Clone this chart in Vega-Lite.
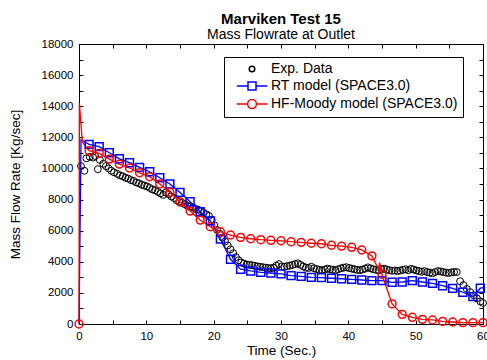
{
  "$schema": "https://vega.github.io/schema/vega-lite/v6.json",
  "width": 404,
  "height": 280,
  "autosize": "none",
  "padding": {"left": 79, "top": 44, "right": 4, "bottom": 36},
  "config": {
    "font": "Liberation Sans",
    "view": {"stroke": "black", "strokeWidth": 1},
    "axis": {"grid": false, "domain": false, "tickColor": "black", "labelColor": "black", "titleColor": "black", "tickSize": -4, "tickWidth": 1}
  },
  "title": {
    "text": "Marviken Test 15",
    "subtitle": "Mass Flowrate at Outlet",
    "fontSize": 15,
    "fontWeight": "bold",
    "color": "black",
    "subtitleFontSize": 14,
    "subtitleColor": "black",
    "subtitleFont": "Liberation Sans",
    "subtitlePadding": 1,
    "offset": -4,
    "anchor": "middle"
  },
  "datasets": {
    "exp": [
      {"t": 0.3, "y": 10150}, {"t": 0.8, "y": 9850}, {"t": 1.1, "y": 10650}, {"t": 1.6, "y": 10750},
      {"t": 2.1, "y": 10700}, {"t": 2.4, "y": 10800}, {"t": 2.8, "y": 9950}, {"t": 3.1, "y": 10550},
      {"t": 3.6, "y": 10300}, {"t": 4.0, "y": 10150}, {"t": 4.4, "y": 10000}, {"t": 4.8, "y": 9850},
      {"t": 5.2, "y": 9750}, {"t": 5.7, "y": 9650}, {"t": 6.1, "y": 9550}, {"t": 6.5, "y": 9500},
      {"t": 6.9, "y": 9400}, {"t": 7.3, "y": 9350}, {"t": 7.7, "y": 9250}, {"t": 8.1, "y": 9200},
      {"t": 8.5, "y": 9100}, {"t": 8.9, "y": 9050}, {"t": 9.3, "y": 8950}, {"t": 9.7, "y": 8900},
      {"t": 10.1, "y": 8850}, {"t": 10.5, "y": 8750}, {"t": 10.9, "y": 8650}, {"t": 11.3, "y": 8600},
      {"t": 11.7, "y": 8500}, {"t": 12.1, "y": 8400}, {"t": 12.5, "y": 8300}, {"t": 12.9, "y": 8450},
      {"t": 13.3, "y": 8350}, {"t": 13.7, "y": 8200}, {"t": 14.1, "y": 8100}, {"t": 14.5, "y": 7950},
      {"t": 14.9, "y": 7850}, {"t": 15.3, "y": 7800}, {"t": 15.7, "y": 7700}, {"t": 16.1, "y": 7600},
      {"t": 16.5, "y": 7550}, {"t": 16.9, "y": 7500}, {"t": 17.3, "y": 7400}, {"t": 17.7, "y": 7350},
      {"t": 18.1, "y": 7250}, {"t": 18.5, "y": 7150}, {"t": 18.9, "y": 7050}, {"t": 19.3, "y": 6950},
      {"t": 19.7, "y": 6700}, {"t": 20.1, "y": 6350}, {"t": 20.5, "y": 6050}, {"t": 20.9, "y": 5800},
      {"t": 21.3, "y": 5550}, {"t": 21.7, "y": 5300}, {"t": 22.1, "y": 5050}, {"t": 22.5, "y": 4800},
      {"t": 22.9, "y": 4550}, {"t": 23.3, "y": 4300}, {"t": 23.7, "y": 4100}, {"t": 24.1, "y": 3950},
      {"t": 24.5, "y": 3880}, {"t": 24.9, "y": 3820}, {"t": 25.3, "y": 3800}, {"t": 25.7, "y": 3780},
      {"t": 26.1, "y": 3740}, {"t": 26.5, "y": 3700}, {"t": 26.9, "y": 3680}, {"t": 27.3, "y": 3650},
      {"t": 27.7, "y": 3620}, {"t": 28.1, "y": 3600}, {"t": 28.5, "y": 3580}, {"t": 28.9, "y": 3620},
      {"t": 29.3, "y": 3750}, {"t": 29.7, "y": 3850}, {"t": 30.1, "y": 3700}, {"t": 30.5, "y": 3680},
      {"t": 30.9, "y": 3720}, {"t": 31.3, "y": 3750}, {"t": 31.7, "y": 3800}, {"t": 32.1, "y": 3850},
      {"t": 32.5, "y": 3900}, {"t": 32.9, "y": 3800}, {"t": 33.3, "y": 3700}, {"t": 33.7, "y": 3620},
      {"t": 34.1, "y": 3600}, {"t": 34.5, "y": 3680}, {"t": 34.9, "y": 3580}, {"t": 35.3, "y": 3530},
      {"t": 35.7, "y": 3480}, {"t": 36.1, "y": 3460}, {"t": 36.5, "y": 3500}, {"t": 36.9, "y": 3560},
      {"t": 37.3, "y": 3520}, {"t": 37.7, "y": 3480}, {"t": 38.1, "y": 3450}, {"t": 38.5, "y": 3520},
      {"t": 38.9, "y": 3580}, {"t": 39.3, "y": 3620}, {"t": 39.7, "y": 3650}, {"t": 40.1, "y": 3600},
      {"t": 40.5, "y": 3560}, {"t": 40.9, "y": 3520}, {"t": 41.3, "y": 3480}, {"t": 41.7, "y": 3460},
      {"t": 42.1, "y": 3500}, {"t": 42.5, "y": 3560}, {"t": 42.9, "y": 3640}, {"t": 43.3, "y": 3580},
      {"t": 43.7, "y": 3520}, {"t": 44.1, "y": 3480}, {"t": 44.5, "y": 3450}, {"t": 44.9, "y": 3520},
      {"t": 45.3, "y": 3560}, {"t": 45.7, "y": 3500}, {"t": 46.1, "y": 3460}, {"t": 46.5, "y": 3420},
      {"t": 46.9, "y": 3440}, {"t": 47.3, "y": 3400}, {"t": 47.7, "y": 3440}, {"t": 48.1, "y": 3480},
      {"t": 48.5, "y": 3520}, {"t": 48.9, "y": 3460}, {"t": 49.3, "y": 3540}, {"t": 49.7, "y": 3500},
      {"t": 50.1, "y": 3440}, {"t": 50.5, "y": 3400}, {"t": 50.9, "y": 3360}, {"t": 51.3, "y": 3400},
      {"t": 51.7, "y": 3340}, {"t": 52.1, "y": 3300}, {"t": 52.5, "y": 3260}, {"t": 52.9, "y": 3340},
      {"t": 53.3, "y": 3400}, {"t": 53.7, "y": 3380}, {"t": 54.1, "y": 3340}, {"t": 54.5, "y": 3300},
      {"t": 54.9, "y": 3280}, {"t": 55.3, "y": 3320}, {"t": 55.7, "y": 3340}, {"t": 56.1, "y": 3340},
      {"t": 56.6, "y": 2750}, {"t": 57.1, "y": 2500}, {"t": 57.6, "y": 2250}, {"t": 58.1, "y": 2050},
      {"t": 58.6, "y": 1850}, {"t": 59.1, "y": 1650}, {"t": 59.6, "y": 1450}, {"t": 60.0, "y": 1350}
    ],
    "models": [
      {"s": "RT model (SPACE3.0)", "t": 0, "y": 0, "sampled": 0},
      {"s": "RT model (SPACE3.0)", "t": 0.3, "y": 11850, "sampled": 0},
      {"s": "RT model (SPACE3.0)", "t": 0.7, "y": 11750, "sampled": 0},
      {"s": "RT model (SPACE3.0)", "t": 1.5, "y": 11550, "sampled": 1},
      {"s": "RT model (SPACE3.0)", "t": 3.0, "y": 11400, "sampled": 1},
      {"s": "RT model (SPACE3.0)", "t": 4.5, "y": 11010, "sampled": 1},
      {"s": "RT model (SPACE3.0)", "t": 6.0, "y": 10620, "sampled": 1},
      {"s": "RT model (SPACE3.0)", "t": 7.5, "y": 10370, "sampled": 1},
      {"s": "RT model (SPACE3.0)", "t": 9.0, "y": 10070, "sampled": 1},
      {"s": "RT model (SPACE3.0)", "t": 10.5, "y": 9790, "sampled": 1},
      {"s": "RT model (SPACE3.0)", "t": 12.0, "y": 9400, "sampled": 1},
      {"s": "RT model (SPACE3.0)", "t": 13.5, "y": 9000, "sampled": 1},
      {"s": "RT model (SPACE3.0)", "t": 15.0, "y": 8460, "sampled": 1},
      {"s": "RT model (SPACE3.0)", "t": 16.5, "y": 7860, "sampled": 1},
      {"s": "RT model (SPACE3.0)", "t": 18.0, "y": 7220, "sampled": 1},
      {"s": "RT model (SPACE3.0)", "t": 19.5, "y": 6630, "sampled": 1},
      {"s": "RT model (SPACE3.0)", "t": 21.0, "y": 5460, "sampled": 1},
      {"s": "RT model (SPACE3.0)", "t": 22.5, "y": 4160, "sampled": 1},
      {"s": "RT model (SPACE3.0)", "t": 24.0, "y": 3520, "sampled": 1},
      {"s": "RT model (SPACE3.0)", "t": 25.5, "y": 3410, "sampled": 1},
      {"s": "RT model (SPACE3.0)", "t": 27.0, "y": 3320, "sampled": 1},
      {"s": "RT model (SPACE3.0)", "t": 28.5, "y": 3280, "sampled": 1},
      {"s": "RT model (SPACE3.0)", "t": 30.0, "y": 3220, "sampled": 1},
      {"s": "RT model (SPACE3.0)", "t": 31.5, "y": 3110, "sampled": 1},
      {"s": "RT model (SPACE3.0)", "t": 33.0, "y": 3060, "sampled": 1},
      {"s": "RT model (SPACE3.0)", "t": 34.5, "y": 3000, "sampled": 1},
      {"s": "RT model (SPACE3.0)", "t": 36.0, "y": 2980, "sampled": 1},
      {"s": "RT model (SPACE3.0)", "t": 37.5, "y": 2940, "sampled": 1},
      {"s": "RT model (SPACE3.0)", "t": 39.0, "y": 2910, "sampled": 1},
      {"s": "RT model (SPACE3.0)", "t": 40.5, "y": 2870, "sampled": 1},
      {"s": "RT model (SPACE3.0)", "t": 42.0, "y": 2830, "sampled": 1},
      {"s": "RT model (SPACE3.0)", "t": 43.5, "y": 2790, "sampled": 1},
      {"s": "RT model (SPACE3.0)", "t": 45.0, "y": 2790, "sampled": 1},
      {"s": "RT model (SPACE3.0)", "t": 46.5, "y": 2680, "sampled": 1},
      {"s": "RT model (SPACE3.0)", "t": 48.0, "y": 2700, "sampled": 1},
      {"s": "RT model (SPACE3.0)", "t": 49.5, "y": 2790, "sampled": 1},
      {"s": "RT model (SPACE3.0)", "t": 51.0, "y": 2700, "sampled": 1},
      {"s": "RT model (SPACE3.0)", "t": 52.5, "y": 2610, "sampled": 1},
      {"s": "RT model (SPACE3.0)", "t": 54.0, "y": 2460, "sampled": 1},
      {"s": "RT model (SPACE3.0)", "t": 55.5, "y": 2290, "sampled": 1},
      {"s": "RT model (SPACE3.0)", "t": 57.0, "y": 2040, "sampled": 1},
      {"s": "RT model (SPACE3.0)", "t": 58.5, "y": 1760, "sampled": 1},
      {"s": "RT model (SPACE3.0)", "t": 59.6, "y": 2300, "sampled": 1},
      {"s": "RT model (SPACE3.0)", "t": 60.0, "y": 2330, "sampled": 0},
      {"s": "HF-Moody model (SPACE3.0)", "t": 0, "y": 0, "sampled": 1},
      {"s": "HF-Moody model (SPACE3.0)", "t": 0.05, "y": 14200, "sampled": 0},
      {"s": "HF-Moody model (SPACE3.0)", "t": 0.5, "y": 11700, "sampled": 0},
      {"s": "HF-Moody model (SPACE3.0)", "t": 1.5, "y": 11140, "sampled": 1},
      {"s": "HF-Moody model (SPACE3.0)", "t": 3.0, "y": 10970, "sampled": 1},
      {"s": "HF-Moody model (SPACE3.0)", "t": 4.5, "y": 10600, "sampled": 1},
      {"s": "HF-Moody model (SPACE3.0)", "t": 6.0, "y": 10280, "sampled": 1},
      {"s": "HF-Moody model (SPACE3.0)", "t": 7.5, "y": 10030, "sampled": 1},
      {"s": "HF-Moody model (SPACE3.0)", "t": 9.0, "y": 9720, "sampled": 1},
      {"s": "HF-Moody model (SPACE3.0)", "t": 10.5, "y": 9470, "sampled": 1},
      {"s": "HF-Moody model (SPACE3.0)", "t": 12.0, "y": 9000, "sampled": 1},
      {"s": "HF-Moody model (SPACE3.0)", "t": 13.5, "y": 8460, "sampled": 1},
      {"s": "HF-Moody model (SPACE3.0)", "t": 15.0, "y": 7840, "sampled": 1},
      {"s": "HF-Moody model (SPACE3.0)", "t": 16.5, "y": 7260, "sampled": 1},
      {"s": "HF-Moody model (SPACE3.0)", "t": 18.0, "y": 6680, "sampled": 1},
      {"s": "HF-Moody model (SPACE3.0)", "t": 19.5, "y": 6250, "sampled": 1},
      {"s": "HF-Moody model (SPACE3.0)", "t": 21.0, "y": 5930, "sampled": 1},
      {"s": "HF-Moody model (SPACE3.0)", "t": 22.5, "y": 5720, "sampled": 1},
      {"s": "HF-Moody model (SPACE3.0)", "t": 24.0, "y": 5570, "sampled": 1},
      {"s": "HF-Moody model (SPACE3.0)", "t": 25.5, "y": 5480, "sampled": 1},
      {"s": "HF-Moody model (SPACE3.0)", "t": 27.0, "y": 5420, "sampled": 1},
      {"s": "HF-Moody model (SPACE3.0)", "t": 28.5, "y": 5380, "sampled": 1},
      {"s": "HF-Moody model (SPACE3.0)", "t": 30.0, "y": 5350, "sampled": 1},
      {"s": "HF-Moody model (SPACE3.0)", "t": 31.5, "y": 5290, "sampled": 1},
      {"s": "HF-Moody model (SPACE3.0)", "t": 33.0, "y": 5250, "sampled": 1},
      {"s": "HF-Moody model (SPACE3.0)", "t": 34.5, "y": 5190, "sampled": 1},
      {"s": "HF-Moody model (SPACE3.0)", "t": 36.0, "y": 5160, "sampled": 1},
      {"s": "HF-Moody model (SPACE3.0)", "t": 37.5, "y": 5060, "sampled": 1},
      {"s": "HF-Moody model (SPACE3.0)", "t": 39.0, "y": 5010, "sampled": 1},
      {"s": "HF-Moody model (SPACE3.0)", "t": 40.5, "y": 4930, "sampled": 1},
      {"s": "HF-Moody model (SPACE3.0)", "t": 42.0, "y": 4760, "sampled": 1},
      {"s": "HF-Moody model (SPACE3.0)", "t": 43.5, "y": 4380, "sampled": 1},
      {"s": "HF-Moody model (SPACE3.0)", "t": 44.5, "y": 3500, "sampled": 0},
      {"s": "HF-Moody model (SPACE3.0)", "t": 44.65, "y": 3950, "sampled": 0},
      {"s": "HF-Moody model (SPACE3.0)", "t": 45.0, "y": 3180, "sampled": 1},
      {"s": "HF-Moody model (SPACE3.0)", "t": 46.5, "y": 1290, "sampled": 1},
      {"s": "HF-Moody model (SPACE3.0)", "t": 48.0, "y": 620, "sampled": 1},
      {"s": "HF-Moody model (SPACE3.0)", "t": 49.5, "y": 430, "sampled": 1},
      {"s": "HF-Moody model (SPACE3.0)", "t": 51.0, "y": 300, "sampled": 1},
      {"s": "HF-Moody model (SPACE3.0)", "t": 52.5, "y": 260, "sampled": 1},
      {"s": "HF-Moody model (SPACE3.0)", "t": 54.0, "y": 170, "sampled": 1},
      {"s": "HF-Moody model (SPACE3.0)", "t": 55.5, "y": 130, "sampled": 1},
      {"s": "HF-Moody model (SPACE3.0)", "t": 57.0, "y": 85, "sampled": 1},
      {"s": "HF-Moody model (SPACE3.0)", "t": 58.5, "y": 85, "sampled": 1},
      {"s": "HF-Moody model (SPACE3.0)", "t": 60.0, "y": 85, "sampled": 1}
    ]
  },
  "resolve": {"axis": {"x": "independent", "y": "independent"}},
  "layer": [
    {
      "data": {"name": "models"},
      "transform": [{"filter": "datum.t < 0"}],
      "mark": {"type": "point", "filled": false, "size": 64, "strokeWidth": 1.5, "opacity": 1},
      "encoding": {
        "x": {"field": "t", "type": "quantitative", "axis": null, "scale": {"domain": [0, 60], "nice": false}},
        "y": {"field": "y", "type": "quantitative", "axis": null, "scale": {"domain": [0, 18000], "nice": false}},
        "color": {
          "field": "s", "type": "nominal",
          "scale": {"domain": ["Exp. Data", "RT model (SPACE3.0)", "HF-Moody model (SPACE3.0)"], "range": ["#000000", "#0000ff", "#ff0000"]},
          "legend": {
            "orient": "none", "legendX": 145, "legendY": 13,
            "title": null,
            "strokeColor": "black", "fillColor": "white",
            "padding": 5,
            "labelFontSize": 14, "labelColor": "black", "labelFont": "Liberation Sans", "labelLimit": 400,
            "symbolSize": 64, "symbolStrokeWidth": 1.5,
            "symbolOffset": 16, "labelOffset": 12, "rowPadding": 3
          }
        },
        "shape": {
          "field": "s", "type": "nominal",
          "scale": {
            "domain": ["Exp. Data", "RT model (SPACE3.0)", "HF-Moody model (SPACE3.0)"],
            "range": [
              "M-0.7,0A0.7,0.7,0,1,1,0.7,0A0.7,0.7,0,1,1,-0.7,0Z",
              "M-3.8,0H-1M1,0H3.8M-1,-1H1V1H-1Z",
              "M-3.8,0H-1.1M1.1,0H3.8M-1.1,0A1.1,1.1,0,1,1,1.1,0A1.1,1.1,0,1,1,-1.1,0Z"
            ]
          },
          "legend": {
            "orient": "none", "legendX": 145, "legendY": 13,
            "title": null,
            "strokeColor": "black", "fillColor": "white",
            "padding": 5,
            "labelFontSize": 14, "labelColor": "black", "labelFont": "Liberation Sans", "labelLimit": 400,
            "symbolSize": 64, "symbolStrokeWidth": 1.5,
            "symbolOffset": 16, "labelOffset": 12, "rowPadding": 3
          }
        }
      }
    },
    {
      "data": {"name": "exp"},
      "transform": [{"calculate": "'Exp. Data'", "as": "s"}],
      "mark": {"type": "point", "shape": "circle", "filled": false, "size": 48, "strokeWidth": 1, "opacity": 1},
      "encoding": {
        "x": {
          "field": "t", "type": "quantitative",
          "axis": {
            "orient": "bottom",
            "values": [0, 5, 10, 15, 20, 25, 30, 35, 40, 45, 50, 55, 60],
            "labelExpr": "datum.value % 10 === 0 ? datum.label : ''",
            "labelFontSize": 11.5, "labelPadding": 10, "labelFlush": false,
            "title": "Time (Sec.)", "titleFontSize": 13.5, "titleFontWeight": "normal", "titlePadding": 2
          }
        },
        "y": {
          "field": "y", "type": "quantitative",
          "axis": {
            "orient": "left",
            "values": [0, 1000, 2000, 3000, 4000, 5000, 6000, 7000, 8000, 9000, 10000, 11000, 12000, 13000, 14000, 15000, 16000, 17000, 18000],
            "format": "d",
            "labelExpr": "datum.value % 2000 === 0 ? datum.label : ''",
            "labelFontSize": 11.5, "labelPadding": 10, "labelFlush": false,
            "title": "Mass Flow Rate [Kg/sec]", "titleFontSize": 13.5, "titleFontWeight": "normal", "titlePadding": 19
          }
        },
        "color": {"field": "s", "type": "nominal"}
      }
    },
    {
      "data": {"name": "models"},
      "mark": {"type": "line", "strokeWidth": 1.3},
      "encoding": {
        "x": {
          "field": "t", "type": "quantitative",
          "axis": {"orient": "top", "labels": false, "title": null, "values": [0, 5, 10, 15, 20, 25, 30, 35, 40, 45, 50, 55, 60]}
        },
        "y": {
          "field": "y", "type": "quantitative",
          "axis": {"orient": "right", "labels": false, "title": null, "values": [0, 1000, 2000, 3000, 4000, 5000, 6000, 7000, 8000, 9000, 10000, 11000, 12000, 13000, 14000, 15000, 16000, 17000, 18000]}
        },
        "color": {"field": "s", "type": "nominal"},
        "order": {"field": "t", "type": "quantitative"}
      }
    },
    {
      "data": {"name": "models"},
      "transform": [{"filter": "datum.sampled === 1 && datum.s === 'RT model (SPACE3.0)'"}],
      "mark": {"type": "point", "shape": "square", "filled": false, "size": 62, "strokeWidth": 1.5, "opacity": 1},
      "encoding": {
        "x": {"field": "t", "type": "quantitative", "axis": null},
        "y": {"field": "y", "type": "quantitative", "axis": null},
        "color": {"field": "s", "type": "nominal"}
      }
    },
    {
      "data": {"name": "models"},
      "transform": [{"filter": "datum.sampled === 1 && datum.s === 'HF-Moody model (SPACE3.0)'"}],
      "mark": {"type": "point", "shape": "circle", "filled": false, "size": 62, "strokeWidth": 1.5, "opacity": 1},
      "encoding": {
        "x": {"field": "t", "type": "quantitative", "axis": null},
        "y": {"field": "y", "type": "quantitative", "axis": null},
        "color": {"field": "s", "type": "nominal"}
      }
    }
  ]
}
